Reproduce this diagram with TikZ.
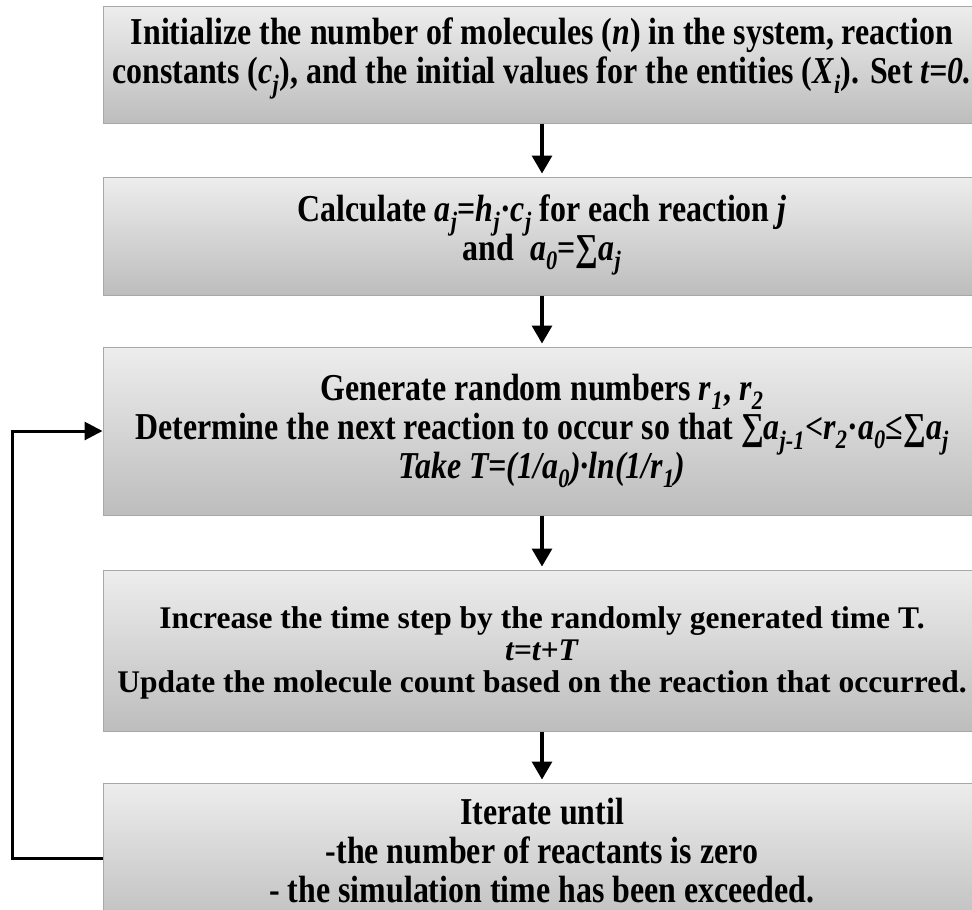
\documentclass[tikz,border=0pt]{standalone}
\usepackage{fontspec}
\setmainfont{Liberation Serif}
\newfontfamily\narrowfont{Liberation Serif}[FakeStretch=0.84]
\usetikzlibrary{arrows.meta}
\definecolor{BoxTop}{HTML}{EDEDED}
\definecolor{BoxBottom}{HTML}{BDBDBD}
\definecolor{BoxLine}{HTML}{A8A8A8}
\newcommand{\sub}[1]{\textsubscript{\itshape #1}}
\newcommand{\var}[1]{\textit{#1}}
\setlength{\lineskiplimit}{-100pt}

\tikzset{
  stagebox/.style={draw=BoxLine, line width=1pt, top color=BoxTop, bottom color=BoxBottom,
    minimum width=878pt, inner sep=0pt},
  stagetext/.style={inner sep=0pt, align=center,
    font=\narrowfont\bfseries\fontsize{38}{39}\selectfont},
  widetext/.style={font=\rmfamily\bfseries\fontsize{31.5}{32}\selectfont},
  flow/.style={-{Triangle[length=18pt,width=20pt]}, line width=3.3pt},
  loopback/.style={-{Triangle[length=18pt,width=18pt]}, line width=3pt}
}

\begin{document}
\begin{tikzpicture}[x=1pt, y=-1pt]
  \useasboundingbox (0,0) rectangle (972,910);
  \clip (0,0) rectangle (972,910);
  % Steps of the algorithm
  \node[stagebox, minimum height=117pt] (init) at (542,64.5) {};
  \node[stagetext] (initText) at ([yshift=6pt]init.center)
    {Initialize the number of molecules (\var{n}) in the system, reaction\\
     constants (\var{c}\sub{j}), and the initial values for the entities (\var{X}\sub{i}). Set \var{t=0.}};
  \node[stagebox, minimum height=118pt] (calc) at (542,236) {};
  \node[stagetext] (calcText) at ([yshift=1pt]calc.center)
    {Calculate \var{a}\sub{j}=\var{h}\sub{j}·\var{c}\sub{j} for each reaction \var{j}\\
     and~ \var{a}\sub{0}=∑\var{a}\sub{j}};
  \node[stagebox, minimum height=168pt] (gen) at (542,431) {};
  \node[stagetext] (genText) at ([yshift=0pt]gen.center)
    {Generate random numbers \var{r}\sub{1}, \var{r}\sub{2}\\
     Determine the next reaction to occur so that ∑\var{a}\sub{j-1}<\var{r}\sub{2}·\var{a}\sub{0}≤∑\var{a}\sub{j}\\
     \itshape Take T=(1/a\sub{0})·ln(1/r\sub{1})};
  \node[stagebox, minimum height=161pt] (update) at (542,650.5) {};
  \node[stagetext, widetext] (updateText) at ([yshift=-2pt]update.center)
    {Increase the time step by the randomly generated time T.\\
     \var{t=t+T}\\
     Update the molecule count based on the reaction that occurred.};
  \node[stagebox, minimum height=150pt] (iter) at (542,858) {};
  \node[stagetext] (iterText) at ([yshift=7pt]iter.center)
    {Iterate until\\
     -the number of reactants is zero\\
     - the simulation time has been exceeded.};

  % Arrows between steps
  \draw[flow, shorten >=3pt] (init) -- (calc);
  \draw[flow, shorten >=3pt] (calc) -- (gen);
  \draw[flow, shorten >=3pt] (gen) -- (update);
  \draw[flow, shorten >=3pt] (update) -- (iter);
  \draw[loopback] (iter.west) -- ++(-90,0) |- (gen.west);
\end{tikzpicture}
\end{document}
